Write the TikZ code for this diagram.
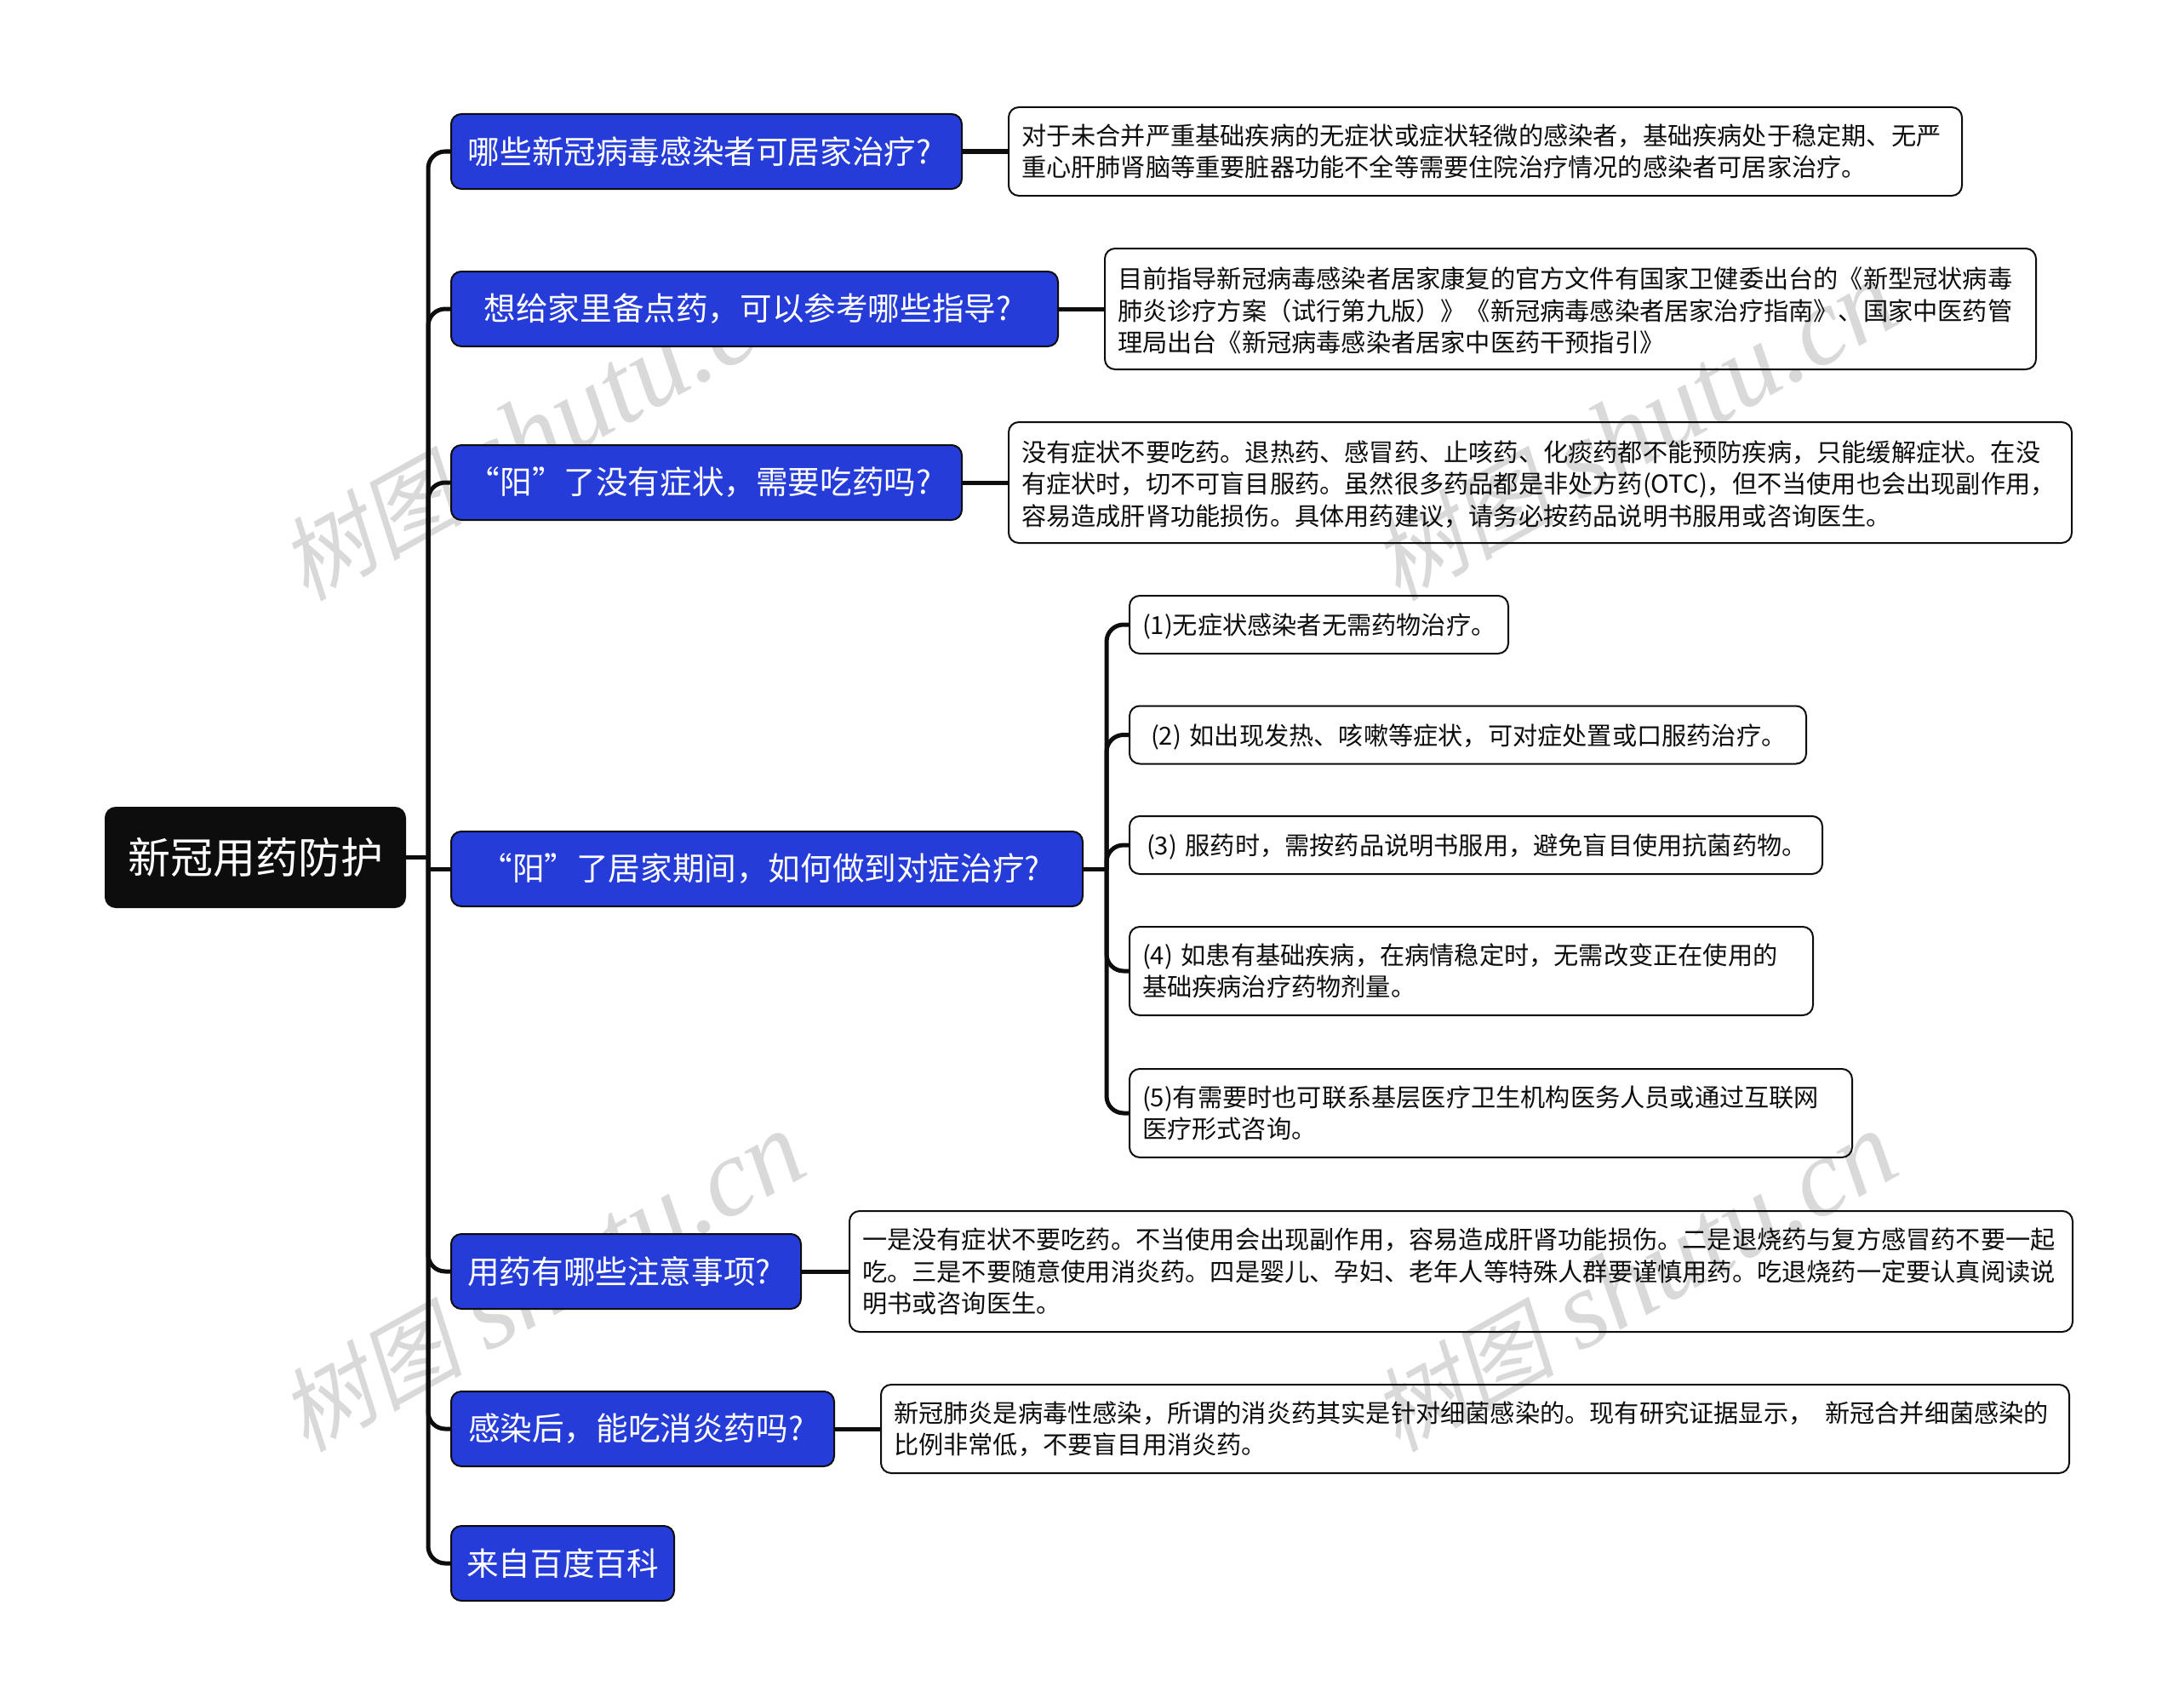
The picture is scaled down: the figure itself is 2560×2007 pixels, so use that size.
\documentclass[tikz,border=0pt]{standalone}
\usepackage{fontspec}
\setmainfont{Noto Sans CJK SC}
\newfontfamily\wmcjk[FakeSlant=0.2]{Noto Sans CJK SC}
\newfontfamily\wmlatin{Liberation Serif}[ItalicFont=* Italic]

\newcommand{\qcomma}{\char"FF0C\relax}
\newcommand{\qopen}{\char"FF08\relax}
\newcommand{\qclose}{\char"FF09\relax}
\newcommand{\wmtext}{{\wmcjk\fontsize{54pt}{60pt}\selectfont 树图}\hspace{14pt}{\wmlatin\itshape\fontsize{65pt}{70pt}\selectfont shutu.cn}}

\definecolor{rootblack}{HTML}{0D0D0D}
\definecolor{branchblue}{HTML}{253CD9}
\definecolor{wmgray}{HTML}{D9D9D9}

\tikzset{
	rootbox/.style={rectangle, rounded corners=6pt, draw=rootblack, fill=rootblack, text=white, line width=1pt, inner sep=0pt, outer sep=0pt, font=\fontsize{25pt}{30pt}\selectfont},
	branchbox/.style={rectangle, rounded corners=6pt, draw=rootblack, fill=branchblue, text=white, line width=1pt, inner sep=0pt, outer sep=0pt, minimum height=44pt, font=\fontsize{18.8pt}{23pt}\selectfont},
	lefted/.style={execute at end node={\hspace*{8pt}}},
	leafbox/.style={rectangle, rounded corners=6pt, draw=rootblack, line width=1pt, inner xsep=7.5pt, inner ysep=0pt, outer sep=0pt, align=left, text=rootblack, font=\fontsize{14.6pt}{18.8pt}\selectfont},
	lowered/.style={execute at begin node={\rule{0pt}{14.4pt}}},
	link/.style={draw=rootblack, line width=2.5pt, rounded corners=10pt},
	stub/.style={draw=rootblack, line width=2.5pt},
	wmark/.style={text=wmgray, rotate=29, inner sep=0pt}
}

\begin{document}
\begin{tikzpicture}[x=0.5pt, y=-0.5pt]

	\useasboundingbox (0,0) rectangle (2560,2007);

	\node[wmark] (wmone) at (637,507) {\wmtext};
	\node[wmark] (wmtwo) at (1920,507) {\wmtext};
	\node[wmark] (wmthree) at (637,1507) {\wmtext};
	\node[wmark] (wmfour) at (1920,1507) {\wmtext};

	\node[rootbox, minimum width=176pt, minimum height=58.5pt] (root) at (300,1007.5) {新冠用药防护};

	\node[branchbox, lefted, minimum width=300pt] (bone) at (830,178) {哪些新冠病毒感染者可居家治疗?};
	\node[branchbox, lefted, minimum width=356.5pt] (btwo) at (886.5,363) {想给家里备点药\qcomma 可以参考哪些指导?};
	\node[branchbox, lefted, minimum width=300pt] (bthree) at (830,567) {“阳”了没有症状\qcomma 需要吃药吗?};
	\node[branchbox, lefted, minimum width=371pt] (bfour) at (901,1021) {“阳”了居家期间\qcomma 如何做到对症治疗?};
	\node[branchbox, lefted, minimum width=205.5pt] (bfive) at (735.5,1494) {用药有哪些注意事项?};
	\node[branchbox, lefted, minimum width=225pt] (bsix) at (755,1679) {感染后\qcomma 能吃消炎药吗?};
	\node[branchbox, minimum width=131pt] (bseven) at (661,1837) {来自百度百科};

	\node[leafbox, text width=545pt, minimum height=52pt] (done) at (1745,178) {对于未合并严重基础疾病的无症状或症状轻微的感染者\qcomma 基础疾病处于稳定期、无严\\重心肝肺肾脑等重要脏器功能不全等需要住院治疗情况的感染者可居家治疗。};
	\node[leafbox, lowered, text width=532pt, minimum height=71pt] (dtwo) at (1845,363) {目前指导新冠病毒感染者居家康复的官方文件有国家卫健委出台的《新型冠状病毒\\肺炎诊疗方案\qopen 试行第九版\qclose 》《新冠病毒感染者居家治疗指南》、国家中医药管\\理局出台《新冠病毒感染者居家中医药干预指引》};
	\node[leafbox, lowered, text width=609.5pt, minimum height=71pt] (dthree) at (1809.5,567) {没有症状不要吃药。退热药、感冒药、止咳药、化痰药都不能预防疾病\qcomma 只能缓解症状。在没\\有症状时\qcomma 切不可盲目服药。虽然很多药品都是非处方药(OTC)\qcomma 但不当使用也会出现副作用\qcomma \\容易造成肝肾功能损伤。具体用药建议\qcomma 请务必按药品说明书服用或咨询医生。};

	\node[leafbox, lowered, text width=207.5pt, minimum height=34pt] (lone) at (1549.5,734) {(1)无症状感染者无需药物治疗。};
	\node[leafbox, lowered, text width=382.5pt, minimum height=34pt] (ltwo) at (1724.5,863.5) {\hspace*{5pt}(2) 如出现发热、咳嗽等症状\qcomma 可对症处置或口服药治疗。};
	\node[leafbox, lowered, text width=392pt, minimum height=34pt] (lthree) at (1734,993) {\hspace*{2.5pt}(3) 服药时\qcomma 需按药品说明书服用\qcomma 避免盲目使用抗菌药物。};
	\node[leafbox, text width=386.5pt, minimum height=52pt] (lfour) at (1728.5,1141) {(4) 如患有基础疾病\qcomma 在病情稳定时\qcomma 无需改变正在使用的\\基础疾病治疗药物剂量。};
	\node[leafbox, text width=409.5pt, minimum height=52pt] (lfive) at (1751.5,1308) {(5)有需要时也可联系基层医疗卫生机构医务人员或通过互联网\\医疗形式咨询。};

	\node[leafbox, text width=703.5pt, minimum height=71pt] (dfive) at (1716.5,1494) {一是没有症状不要吃药。不当使用会出现副作用\qcomma 容易造成肝肾功能损伤。二是退烧药与复方感冒药不要一起\\吃。三是不要随意使用消炎药。四是婴儿、孕妇、老年人等特殊人群要谨慎用药。吃退烧药一定要认真阅读说\\明书或咨询医生。};
	\node[leafbox, text width=683pt, minimum height=52pt] (dsix) at (1733,1679) {新冠肺炎是病毒性感染\qcomma 所谓的消炎药其实是针对细菌感染的。现有研究证据显示\qcomma \hspace{7pt}新冠合并细菌感染的\\比例非常低\qcomma 不要盲目用消炎药。};

	\coordinate (trunk) at (503,1007.5);
	\coordinate (subtrunk) at (1300,1021);

	\draw[stub] (root.east) -- (trunk);
	\draw[link] (trunk) |- (bone.west);
	\draw[link] (trunk) |- (btwo.west);
	\draw[link] (trunk) |- (bthree.west);
	\draw[stub] (trunk |- bfour.west) -- (bfour.west);
	\draw[link] (trunk) |- (bfive.west);
	\draw[link] (trunk) |- (bsix.west);
	\draw[link] (trunk) |- (bseven.west);

	\draw[stub] (bone.east) -- (done.west);
	\draw[stub] (btwo.east) -- (dtwo.west);
	\draw[stub] (bthree.east) -- (dthree.west);
	\draw[stub] (bfive.east) -- (dfive.west);
	\draw[stub] (bsix.east) -- (dsix.west);

	\draw[stub] (bfour.east) -- (subtrunk);
	\draw[link] (subtrunk) |- (lone.west);
	\draw[link] (subtrunk) |- (ltwo.west);
	\draw[link] (subtrunk) |- (lthree.west);
	\draw[link] (subtrunk) |- (lfour.west);
	\draw[link] (subtrunk) |- (lfive.west);

\end{tikzpicture}
\end{document}
